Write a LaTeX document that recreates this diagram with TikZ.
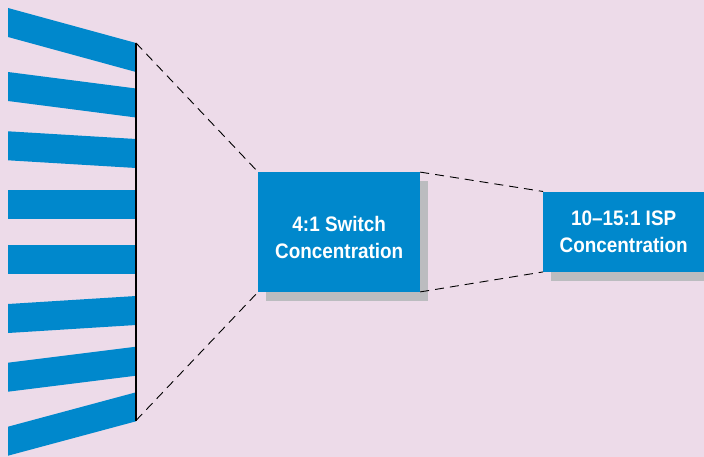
\documentclass[tikz,border=0pt]{standalone}
\usepackage{fontspec}
\newfontfamily\boxfont[FakeStretch=0.9,Ligatures=TeX]{Liberation Sans}
\usetikzlibrary{shadows}
\definecolor{bgpink}{RGB}{237,219,233}
\definecolor{boxblue}{RGB}{0,136,204}
\definecolor{shadowgray}{RGB}{187,188,191}
\tikzset{
  wedge/.style={fill=boxblue},
  conc/.style={rectangle,fill=boxblue,text=white,inner sep=0pt,align=center,
    font=\boxfont\bfseries\fontsize{21}{27}\selectfont,
    drop shadow={shadow xshift=8pt,shadow yshift=-9pt,fill=shadowgray,opacity=1}},
  link/.style={draw=black,line width=0.9pt,dash pattern=on 9pt off 6pt}
}
\begin{document}
\begin{tikzpicture}[x=1pt,y=-1pt]
    \clip (0,0) rectangle (704,457);
    \fill[bgpink] (0,0) rectangle (704,457);
    \foreach \lt/\rt in {8/43,72/88.5,131.3/139,190/190,245/245,304/296,362.7/346.7,426.7/392.3}
    {\fill[wedge] (8,\lt) -- (136,\rt) -- (136,\rt+29) -- (8,\lt+29) -- cycle;}
    \coordinate (T) at (136,43);
    \coordinate (B) at (136,420.5);
    \draw[line width=1.2pt] (T) -- (B);
    \node[conc,minimum width=161.7pt,minimum height=119.4pt] (S) at (339.2,232) {\rule{0pt}{26pt}4:1 Switch\\Concentration};
    \node[conc,minimum width=160.7pt,minimum height=80pt] (I) at (623.7,231.7) {10–15:1 ISP\\Concentration};
    \draw[link] (T) -- (S.north west);
    \draw[link] (B) -- (S.south west);
    \draw[link] (S.north east) -- (I.north west);
    \draw[link] (S.south east) -- (I.south west);
\end{tikzpicture}
\end{document}
